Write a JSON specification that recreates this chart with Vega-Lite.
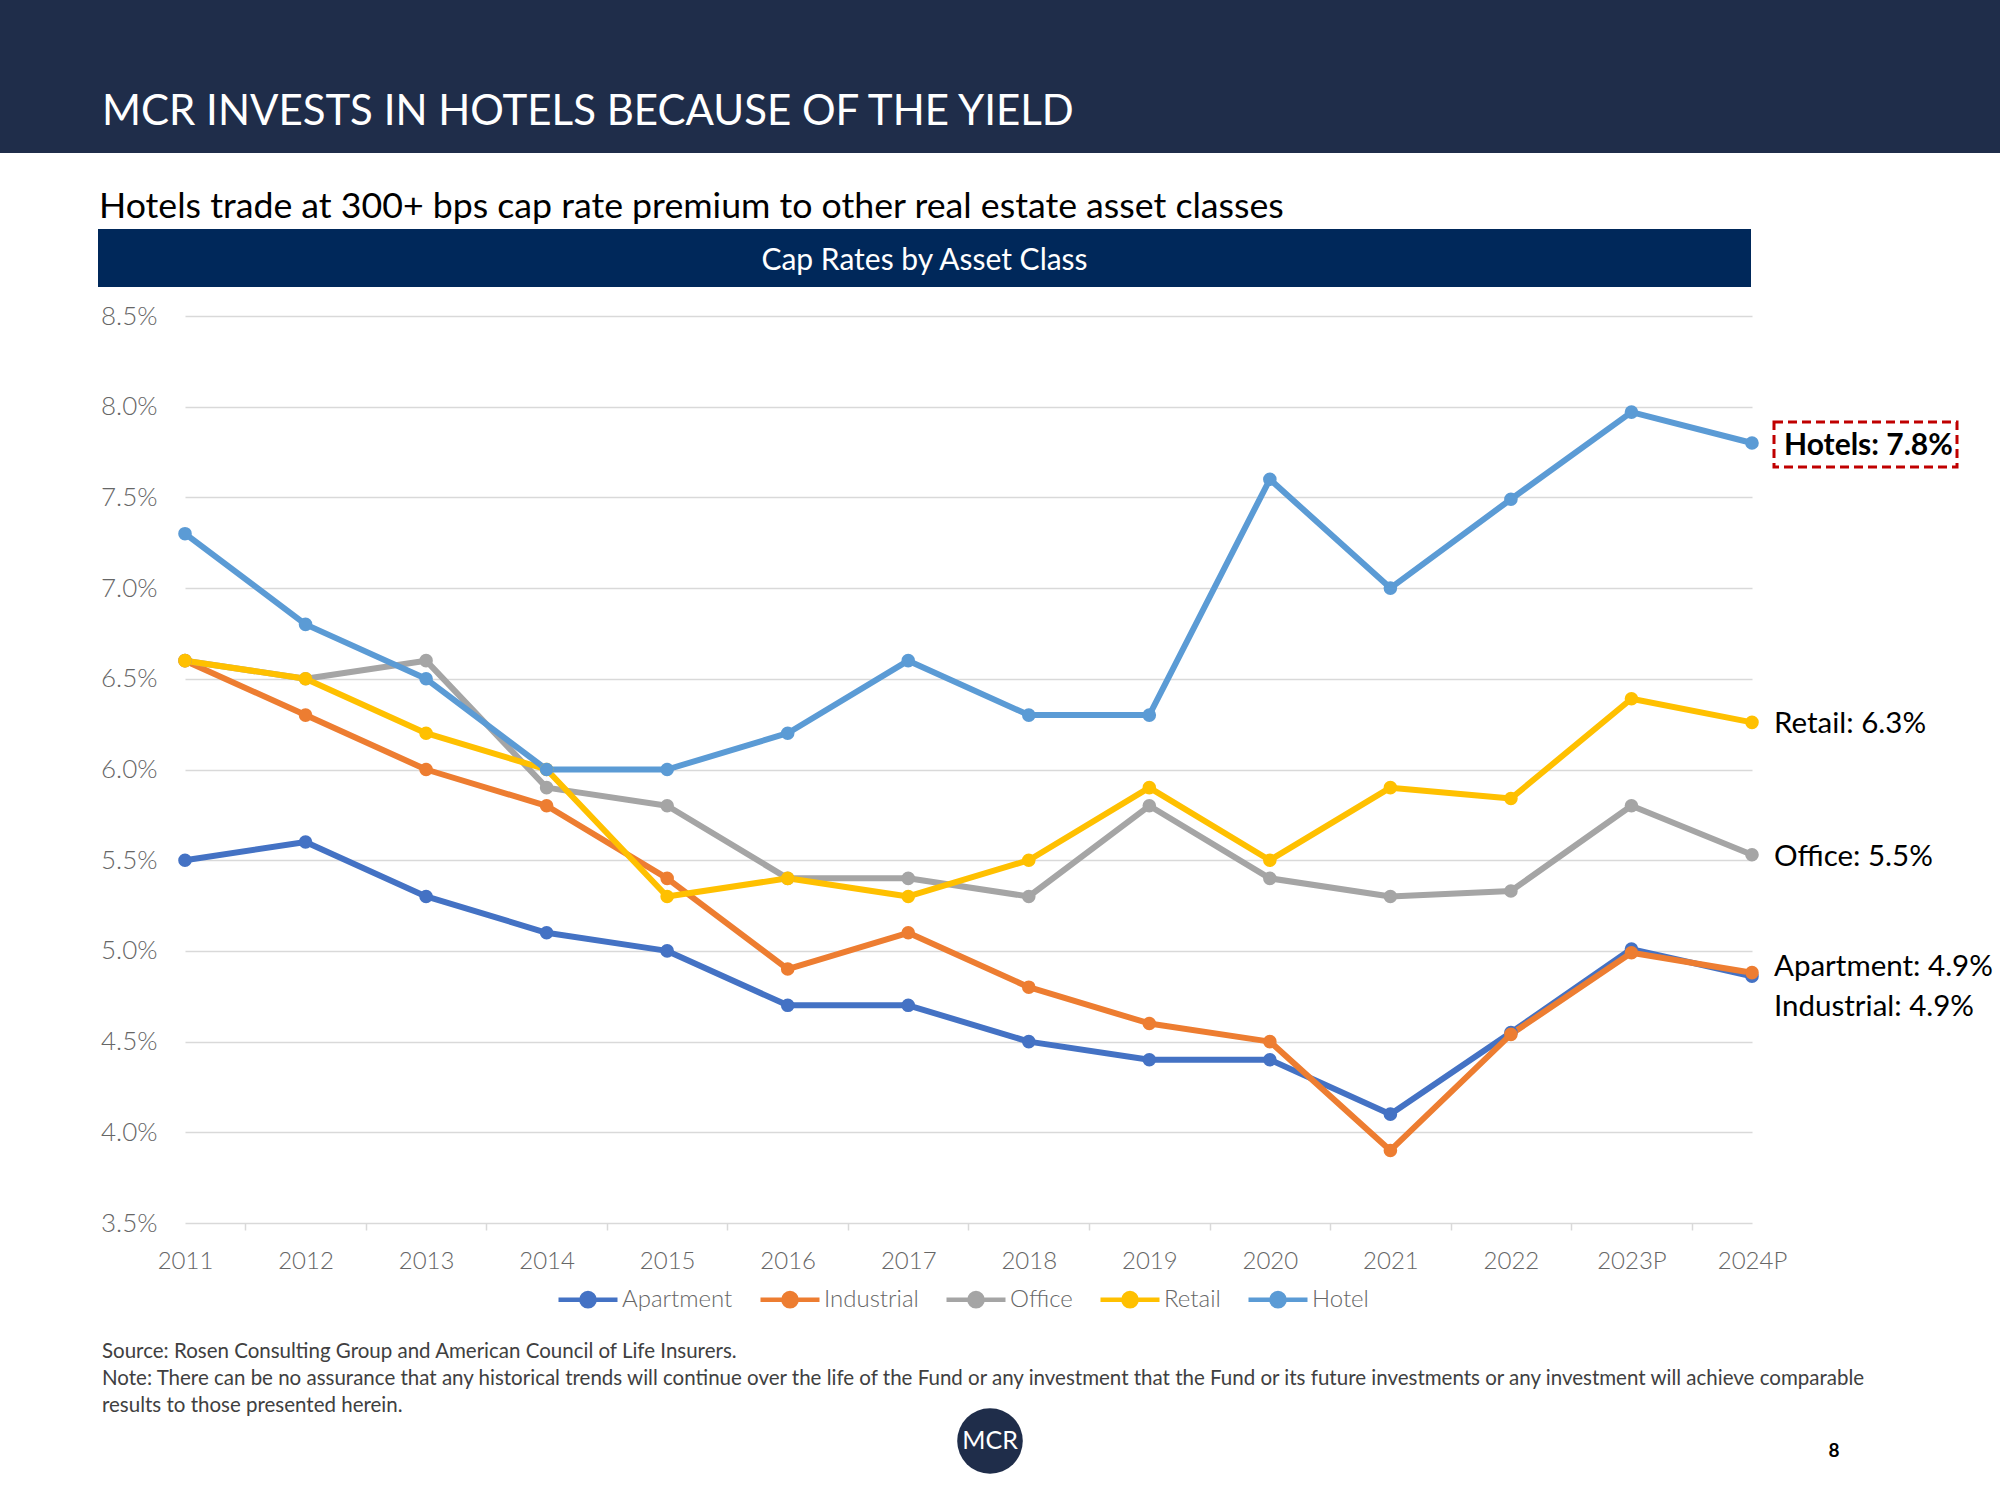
{
  "$schema": "https://vega.github.io/schema/vega-lite/v6.json",
  "background": "white",
  "padding": 0,
  "spacing": 0,
  "bounds": "flush",
  "config": {
    "view": {"stroke": null},
    "font": "Lato",
    "title": {"font": "Lato", "fontWeight": "normal"},
    "text": {"font": "Lato"}
  },
  "datasets": {
    "main": [
      {"series": "Apartment", "year": "2011", "value": 5.5},
      {"series": "Apartment", "year": "2012", "value": 5.6},
      {"series": "Apartment", "year": "2013", "value": 5.3},
      {"series": "Apartment", "year": "2014", "value": 5.1},
      {"series": "Apartment", "year": "2015", "value": 5.0},
      {"series": "Apartment", "year": "2016", "value": 4.7},
      {"series": "Apartment", "year": "2017", "value": 4.7},
      {"series": "Apartment", "year": "2018", "value": 4.5},
      {"series": "Apartment", "year": "2019", "value": 4.4},
      {"series": "Apartment", "year": "2020", "value": 4.4},
      {"series": "Apartment", "year": "2021", "value": 4.1},
      {"series": "Apartment", "year": "2022", "value": 4.55},
      {"series": "Apartment", "year": "2023P", "value": 5.01},
      {"series": "Apartment", "year": "2024P", "value": 4.86},
      {"series": "Industrial", "year": "2011", "value": 6.6},
      {"series": "Industrial", "year": "2012", "value": 6.3},
      {"series": "Industrial", "year": "2013", "value": 6.0},
      {"series": "Industrial", "year": "2014", "value": 5.8},
      {"series": "Industrial", "year": "2015", "value": 5.4},
      {"series": "Industrial", "year": "2016", "value": 4.9},
      {"series": "Industrial", "year": "2017", "value": 5.1},
      {"series": "Industrial", "year": "2018", "value": 4.8},
      {"series": "Industrial", "year": "2019", "value": 4.6},
      {"series": "Industrial", "year": "2020", "value": 4.5},
      {"series": "Industrial", "year": "2021", "value": 3.9},
      {"series": "Industrial", "year": "2022", "value": 4.54},
      {"series": "Industrial", "year": "2023P", "value": 4.99},
      {"series": "Industrial", "year": "2024P", "value": 4.88},
      {"series": "Office", "year": "2011", "value": 6.6},
      {"series": "Office", "year": "2012", "value": 6.5},
      {"series": "Office", "year": "2013", "value": 6.6},
      {"series": "Office", "year": "2014", "value": 5.9},
      {"series": "Office", "year": "2015", "value": 5.8},
      {"series": "Office", "year": "2016", "value": 5.4},
      {"series": "Office", "year": "2017", "value": 5.4},
      {"series": "Office", "year": "2018", "value": 5.3},
      {"series": "Office", "year": "2019", "value": 5.8},
      {"series": "Office", "year": "2020", "value": 5.4},
      {"series": "Office", "year": "2021", "value": 5.3},
      {"series": "Office", "year": "2022", "value": 5.33},
      {"series": "Office", "year": "2023P", "value": 5.8},
      {"series": "Office", "year": "2024P", "value": 5.53},
      {"series": "Retail", "year": "2011", "value": 6.6},
      {"series": "Retail", "year": "2012", "value": 6.5},
      {"series": "Retail", "year": "2013", "value": 6.2},
      {"series": "Retail", "year": "2014", "value": 6.0},
      {"series": "Retail", "year": "2015", "value": 5.3},
      {"series": "Retail", "year": "2016", "value": 5.4},
      {"series": "Retail", "year": "2017", "value": 5.3},
      {"series": "Retail", "year": "2018", "value": 5.5},
      {"series": "Retail", "year": "2019", "value": 5.9},
      {"series": "Retail", "year": "2020", "value": 5.5},
      {"series": "Retail", "year": "2021", "value": 5.9},
      {"series": "Retail", "year": "2022", "value": 5.84},
      {"series": "Retail", "year": "2023P", "value": 6.39},
      {"series": "Retail", "year": "2024P", "value": 6.26},
      {"series": "Hotel", "year": "2011", "value": 7.3},
      {"series": "Hotel", "year": "2012", "value": 6.8},
      {"series": "Hotel", "year": "2013", "value": 6.5},
      {"series": "Hotel", "year": "2014", "value": 6.0},
      {"series": "Hotel", "year": "2015", "value": 6.0},
      {"series": "Hotel", "year": "2016", "value": 6.2},
      {"series": "Hotel", "year": "2017", "value": 6.6},
      {"series": "Hotel", "year": "2018", "value": 6.3},
      {"series": "Hotel", "year": "2019", "value": 6.3},
      {"series": "Hotel", "year": "2020", "value": 7.6},
      {"series": "Hotel", "year": "2021", "value": 7.0},
      {"series": "Hotel", "year": "2022", "value": 7.49},
      {"series": "Hotel", "year": "2023P", "value": 7.97},
      {"series": "Hotel", "year": "2024P", "value": 7.8}
    ],
    "labels": [
      {"series": "Hotel", "year": "2024P", "value": 7.8, "label": "Hotels: 7.8%"},
      {"series": "Retail", "year": "2024P", "value": 6.26, "label": "Retail: 6.3%"},
      {"series": "Office", "year": "2024P", "value": 5.53, "label": "Office: 5.5%"},
      {"series": "Apartment", "year": "2024P", "value": 4.86, "label": "Apartment: 4.9%"},
      {"series": "Industrial", "year": "2024P", "value": 4.88, "label": "Industrial: 4.9%"}
    ]
  },
  "vconcat": [
    {
      "width": 2000, "height": 153,
      "view": {"fill": "#1F2D4A", "stroke": null},
      "data": {"values": []},
      "mark": "text",
      "title": {"text": "MCR INVESTS IN HOTELS BECAUSE OF THE YIELD", "orient": "bottom", "anchor": "start", "frame": "group", "offset": -28, "dx": 102, "baseline": "alphabetic", "color": "#FFFFFF", "fontSize": 42, "font": "Lato", "fontWeight": "normal"}
    },
    {"width": 2000, "height": 76, "data": {"values": []}, "mark": "text"},
    {
      "hconcat": [
        {"width": 98, "height": 58, "data": {"values": []}, "mark": "text"},
        {
          "width": 1653, "height": 58,
          "view": {"fill": "#00285A", "stroke": null},
          "data": {"values": [{"t": "Cap Rates by Asset Class"}]},
          "mark": {"type": "text", "color": "#FFFFFF", "fontSize": 30, "align": "center", "baseline": "middle", "dy": 3, "font": "Lato"},
          "encoding": {"text": {"field": "t"}},
          "title": {"text": "Hotels trade at 300+ bps cap rate premium to other real estate asset classes", "orient": "top", "anchor": "start", "frame": "group", "offset": -25, "dx": 1, "baseline": "alphabetic", "color": "#000000", "fontSize": 35.7, "font": "Lato", "fontWeight": "normal"}
        }
      ],
      "spacing": 0,
      "bounds": "flush"
    },
    {"width": 2000, "height": 86.5, "data": {"values": []}, "mark": "text"},
    {
      "hconcat": [
        {"width": 185, "height": 907, "data": {"values": []}, "mark": "text"},
        {
          "width": 1567, "height": 907,
          "encoding": {
            "x": {
              "field": "year", "type": "ordinal",
              "sort": ["2011","2012","2013","2014","2015","2016","2017","2018","2019","2020","2021","2022","2023P","2024P"],
              "scale": {"type": "point", "padding": 0},
              "axis": {
                "title": null, "labelAngle": 0, "domain": false, "grid": false,
                "ticks": true, "tickSize": 7, "tickColor": "#D9D9D9", "tickWidth": 1.5,
                "tickOffset": -60.27, "labelOffset": 60.27,
                "tickOpacity": {"condition": {"test": "datum.value === '2011'", "value": 0}, "value": 1},
                "labelPadding": 19, "labelFontSize": 24, "labelColor": "#666666", "labelFont": "Lato", "labelFontWeight": 300,
                "labelOverlap": false, "labelFlush": false
              }
            },
            "y": {
              "field": "value", "type": "quantitative",
              "scale": {"domain": [3.5, 8.5], "nice": false, "zero": false},
              "axis": {
                "title": null, "values": [3.5, 4, 4.5, 5, 5.5, 6, 6.5, 7, 7.5, 8, 8.5],
                "labelExpr": "format(datum.value, '.1f') + '%'",
                "domain": false, "ticks": false, "grid": true, "gridColor": "#D9D9D9", "gridWidth": 1.5,
                "labelPadding": 28, "labelFontSize": 26, "labelColor": "#666666", "labelFont": "Lato", "labelFontWeight": 300
              }
            }
          },
          "layer": [
            {
              "data": {"name": "main"},
              "mark": {"type": "line", "strokeWidth": 6, "strokeJoin": "round", "strokeCap": "round"},
              "encoding": {
                "color": {
                  "field": "series", "type": "nominal",
                  "scale": {"domain": ["Apartment", "Industrial", "Office", "Retail", "Hotel"], "range": ["#4472C4", "#ED7D31", "#A5A5A5", "#FFC000", "#5B9BD5"]},
                  "legend": {
                    "orient": "none", "legendX": 556, "legendY": 1267.5, "direction": "horizontal", "title": null,
                    "symbolType": "M-1,0H1M0.224,0A0.224,0.224,0,1,1,-0.224,0A0.224,0.224,0,1,1,0.224,0Z",
                    "symbolSize": 3481, "symbolStrokeWidth": 4.5,
                    "labelFontSize": 24, "labelColor": "#666666", "labelFont": "Lato", "labelFontWeight": 300,
                    "labelOffset": 2, "columnPadding": 18
                  }
                }
              }
            },
            {
              "data": {"name": "main"},
              "mark": {"type": "point", "filled": true, "size": 185, "opacity": 1},
              "encoding": {"color": {"field": "series", "type": "nominal"}}
            },
            {
              "data": {"name": "labels"},
              "transform": [{"filter": "datum.series === 'Hotel'"}],
              "mark": {"type": "point", "shape": "M0.22,-0.21H2.05V0.24H0.22Z", "size": 40000, "filled": false, "stroke": "#C00000", "strokeWidth": 3, "strokeDash": [9, 5], "opacity": 1}
            },
            {
              "data": {"name": "labels"},
              "transform": [{"filter": "datum.series === 'Hotel'"}],
              "mark": {"type": "text", "align": "left", "baseline": "middle", "dx": 32, "dy": 3, "fontSize": 30, "fontWeight": "bold", "color": "#000000", "font": "Lato"},
              "encoding": {"text": {"field": "label"}}
            },
            {
              "data": {"name": "labels"},
              "transform": [{"filter": "datum.series === 'Retail' || datum.series === 'Office'"}],
              "mark": {"type": "text", "align": "left", "baseline": "middle", "dx": 22, "dy": 2, "fontSize": 29.5, "color": "#000000", "font": "Lato"},
              "encoding": {"text": {"field": "label"}}
            },
            {
              "data": {"name": "labels"},
              "transform": [{"filter": "datum.series === 'Apartment'"}],
              "mark": {"type": "text", "align": "left", "baseline": "middle", "dx": 22, "dy": -9, "fontSize": 29.5, "color": "#000000", "font": "Lato"},
              "encoding": {"text": {"field": "label"}}
            },
            {
              "data": {"name": "labels"},
              "transform": [{"filter": "datum.series === 'Industrial'"}],
              "mark": {"type": "text", "align": "left", "baseline": "middle", "dx": 22, "dy": 34, "fontSize": 29.5, "color": "#000000", "font": "Lato"},
              "encoding": {"text": {"field": "label"}}
            }
          ]
        }
      ],
      "spacing": 0,
      "bounds": "flush"
    },
    {"width": 2000, "height": 1084.5, "data": {"values": []}, "mark": "text"},
    {
      "hconcat": [
        {
          "width": 953, "height": 100, "data": {"values": []}, "mark": "text",
          "title": {
            "text": ["Source: Rosen Consulting Group and American Council of Life Insurers.", "Note: There can be no assurance that any historical trends will continue over the life of the Fund or any investment that the Fund or its future investments or any investment will achieve comparable", "results to those presented herein."],
            "orient": "top", "anchor": "start", "frame": "group", "offset": -31.5, "dx": 102, "baseline": "alphabetic",
            "fontSize": 20.5, "lineHeight": 27, "color": "#404040", "font": "Lato", "fontWeight": "normal"
          }
        },
        {
          "width": 74, "height": 80,
          "data": {"values": [{"t": "MCR"}]},
          "layer": [
            {"mark": {"type": "point", "shape": "circle", "filled": true, "size": 4300, "color": "#1F2D4A", "opacity": 1}},
            {"mark": {"type": "text", "color": "#FFFFFF", "fontSize": 25, "align": "center", "baseline": "middle", "font": "Lato"}, "encoding": {"text": {"field": "t"}}}
          ]
        },
        {"width": 641, "height": 100, "data": {"values": []}, "mark": "text"},
        {
          "width": 332, "height": 100,
          "data": {"values": [{"t": "8"}]},
          "mark": {"type": "text", "fontSize": 19, "fontWeight": "bold", "color": "#000000", "align": "center", "baseline": "middle", "font": "Lato"},
          "encoding": {"text": {"field": "t"}}
        }
      ],
      "spacing": 0,
      "bounds": "flush"
    }
  ]
}
